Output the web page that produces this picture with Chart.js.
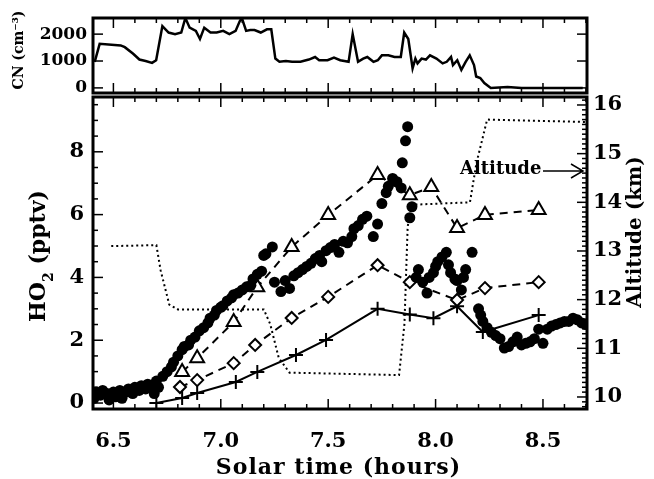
<!DOCTYPE html>
<html>
<head>
<meta charset="utf-8">
<script src="https://cdn.jsdelivr.net/npm/chart.js@4/dist/chart.umd.min.js"></script>
<style>
  body { margin: 0; background: #fff; }
  #wrap { position: relative; width: 654px; height: 479px; }
  canvas { position: absolute; left: 0; top: 0; }
</style>
</head>
<body>
<div id="wrap">
  <canvas id="cnChart" width="654" height="96"></canvas>
  <canvas id="mainChart" width="654" height="479"></canvas>
</div>
<script>
// tick labels
let xTicks = [6.5, 7.0, 7.5, 8.0, 8.5];
let ho2Ticks = [0, 2, 4, 6, 8];
let altTicks = [10, 11, 12, 13, 14, 15, 16];
let cnTicks = [0, 1000, 2000];

// measured HO2 (filled dots)
let dotTime = [6.41, 6.42, 6.44, 6.45, 6.47, 6.48, 6.50, 6.51, 6.53, 6.54, 6.56, 6.57, 6.59, 6.60, 6.62, 6.63, 6.65, 6.66, 6.68, 6.69, 6.70, 6.71, 6.73,
  6.75, 6.77, 6.78, 6.80, 6.82, 6.83, 6.85, 6.86, 6.88, 6.90, 6.92, 6.94, 6.95, 6.97, 6.98, 7.00, 7.01, 7.03, 7.05, 7.06, 7.08, 7.10, 7.12, 7.14, 7.15, 7.17, 7.19, 7.20, 7.21, 7.24,
  7.25, 7.28, 7.30, 7.32, 7.34, 7.36, 7.38, 7.40, 7.42, 7.44, 7.46, 7.47, 7.49, 7.51, 7.53, 7.55, 7.57, 7.59, 7.61, 7.62, 7.64, 7.66, 7.68, 7.71, 7.73, 7.75, 7.77, 7.78, 7.80, 7.82, 7.84, 7.845, 7.86, 7.87, 7.88, 7.89,
  7.91, 7.92, 7.94, 7.96, 7.97, 7.99, 8.00, 8.01, 8.03, 8.05, 8.06, 8.07, 8.09, 8.10, 8.12, 8.13, 8.14, 8.17,
  8.20, 8.21, 8.22, 8.24, 8.26, 8.28, 8.30, 8.32, 8.34, 8.36, 8.38, 8.40, 8.42, 8.44, 8.46, 8.48, 8.50, 8.52, 8.54, 8.56, 8.58, 8.60, 8.62, 8.64, 8.66, 8.68, 8.70];
let dotHO2 = [0.15, 0.35, 0.25, 0.4, 0.3, 0.1, 0.35, 0.2, 0.4, 0.15, 0.35, 0.45, 0.3, 0.5, 0.4, 0.55, 0.45, 0.6, 0.55, 0.3, 0.7, 0.5, 0.85,
  1.0, 1.15, 1.3, 1.5, 1.7, 1.8, 1.85, 2.0, 2.1, 2.3, 2.4, 2.55, 2.7, 2.8, 2.95, 3.05, 3.1, 3.25, 3.35, 3.45, 3.5, 3.6, 3.7, 3.75, 3.95, 4.1, 4.2, 4.7, 4.75, 4.97,
  3.85, 3.55, 3.9, 3.65, 4.05, 4.15, 4.25, 4.35, 4.45, 4.6, 4.7, 4.5, 4.85, 4.95, 5.05, 4.8, 5.15, 5.1, 5.3, 5.55, 5.65, 5.85, 5.95, 5.3, 5.7, 6.35, 6.7, 6.9, 7.15, 7.05, 6.85, 7.65, 8.35, 8.8, 5.9, 6.25,
  4.0, 4.25, 3.85, 3.5, 4.0, 4.15, 4.35, 4.5, 4.65, 4.8, 4.4, 4.15, 3.95, 3.9, 3.6, 4.0, 4.25, 4.8,
  3.0, 2.8, 2.6, 2.4, 2.25, 2.15, 2.05, 1.75, 1.8, 1.95, 2.1, 1.85, 1.9, 1.95, 2.05, 2.35, 1.9, 2.35, 2.45, 2.5, 2.55, 2.6, 2.6, 2.7, 2.65, 2.55, 2.5];

// model runs
let triTime = [6.82, 6.89, 7.06, 7.17, 7.33, 7.50, 7.73, 7.88, 7.98, 8.10, 8.23, 8.48];
let triHO2 = [0.99, 1.43, 2.58, 3.69, 4.97, 5.99, 7.26, 6.62, 6.88, 5.57, 5.99, 6.15];
let diaTime = [6.81, 6.89, 7.06, 7.16, 7.33, 7.50, 7.73, 7.88, 8.10, 8.23, 8.48];
let diaHO2 = [0.51, 0.73, 1.27, 1.85, 2.71, 3.38, 4.39, 3.85, 3.28, 3.66, 3.85];
let crossTime = [6.70, 6.82, 6.89, 7.07, 7.17, 7.35, 7.49, 7.73, 7.88, 7.99, 8.10, 8.22, 8.48];
let crossHO2 = [0.0, 0.16, 0.32, 0.67, 0.99, 1.53, 2.01, 3.0, 2.82, 2.7, 3.08, 2.26, 2.8];

// aircraft altitude (km)
let altTime = [6.49, 6.70, 6.72, 6.76, 6.80, 7.20, 7.23, 7.27, 7.32, 7.83, 7.855, 7.87, 7.89, 8.16, 8.19, 8.24, 8.70];
let altKm = [13.1, 13.12, 12.6, 11.9, 11.8, 11.8, 11.5, 10.8, 10.5, 10.45, 11.5, 13.5, 13.95, 14.0, 14.8, 15.7, 15.65];

// CN (cm-3)
let cnTime = [6.413, 6.436, 6.534, 6.553, 6.592, 6.621, 6.650, 6.680, 6.699, 6.728, 6.757, 6.787, 6.816, 6.835, 6.855, 6.884, 6.903, 6.923, 6.952, 6.981, 7.011, 7.040, 7.069, 7.088, 7.098, 7.118, 7.137, 7.157, 7.186, 7.215, 7.235,
  7.254, 7.273, 7.303, 7.332, 7.371, 7.410, 7.439, 7.458, 7.497, 7.527, 7.556, 7.595, 7.614, 7.639, 7.663, 7.682, 7.711, 7.731, 7.750, 7.780, 7.809, 7.838, 7.854, 7.873, 7.893, 7.906, 7.916, 7.935, 7.955, 7.974,
  8.004, 8.033, 8.052, 8.072, 8.081, 8.101, 8.120, 8.140, 8.159, 8.179, 8.189, 8.208, 8.227, 8.257, 8.335, 8.400, 8.685];
let cnVal = [970, 1640, 1580, 1515, 1270, 1055, 1000, 930, 1030, 2300, 2060, 2000, 2060, 2600, 2240, 2120, 1820, 2240, 2060, 2060, 2120, 2000, 2120, 2480, 2600, 2120, 2150, 2150, 2060, 2180, 2180,
  1090, 970, 1000, 970, 970, 1055, 1150, 1030, 1030, 1130, 1030, 970, 2000, 970, 1090, 1150, 970, 1030, 1210, 1210, 1150, 1150, 2060, 1820, 730, 1090, 910, 1090, 1055, 1210,
  1090, 910, 970, 1150, 850, 1030, 670, 970, 1210, 850, 425, 365, 180, 0, 36, 0, 0];

const serif = "'DejaVu Serif', 'Liberation Serif', serif";

function pts(xs, ys) {
  return xs.map((x, i) => ({ x: x, y: ys[i] }));
}

function fixTicks(values) {
  return function (scale) {
    scale.ticks = values.map(v => ({ value: v }));
  };
}

// keep the plot box where it is, labels may hang over the edges
function noPad(w) {
  return function (s) {
    s.width = w;
    s.paddingTop = 0;
    s.paddingBottom = 0;
  };
}

// frame + inward ticks, IDL style
const framePlugin = {
  id: 'frame',
  afterDraw(chart, args, opts) {
    const ctx = chart.ctx;
    const a = chart.chartArea;
    ctx.save();
    ctx.strokeStyle = '#000';
    ctx.lineWidth = 1.5;
    (opts.marks || []).forEach(m => {
      const s = chart.scales[m.scale];
      let n = Math.round((m.to - m.from) / m.step);
      for (let i = 0; i <= n; i++) {
        let v = m.from + i * m.step;
        let r = v / m.major;
        let len = Math.abs(r - Math.round(r)) < 1e-6 ? 10 : 5;
        let p = s.getPixelForValue(v);
        ctx.beginPath();
        if (m.edge === 'x') {
          ctx.moveTo(p, a.bottom); ctx.lineTo(p, a.bottom - len);
          ctx.moveTo(p, a.top); ctx.lineTo(p, a.top + len);
        } else if (m.edge === 'left') {
          ctx.moveTo(a.left, p); ctx.lineTo(a.left + len, p);
        } else {
          ctx.moveTo(a.right, p); ctx.lineTo(a.right - len, p);
        }
        ctx.stroke();
      }
    });
    ctx.lineWidth = 3;
    ctx.strokeRect(a.left, a.top, a.right - a.left, a.bottom - a.top);
    ctx.restore();
  }
};

const textPlugin = {
  id: 'labels',
  afterDraw(chart, args, opts) {
    const ctx = chart.ctx;
    ctx.save();
    ctx.fillStyle = '#000';
    ctx.strokeStyle = '#000';
    (opts.items || []).forEach(t => t(ctx, chart));
    ctx.restore();
  }
};

function rotated(ctx, x, y, fn) {
  ctx.save();
  ctx.translate(x, y);
  ctx.rotate(-Math.PI / 2);
  fn();
  ctx.restore();
}

// top panel: CN
new Chart(document.getElementById('cnChart'), {
  type: 'line',
  data: {
    datasets: [{
      data: pts(cnTime, cnVal),
      borderColor: '#000',
      borderWidth: 2.5,
      pointRadius: 0,
      tension: 0
    }]
  },
  options: {
    responsive: false,
    animation: false,
    layout: { padding: { top: 18, bottom: 3, right: 67, left: 0 } },
    plugins: {
      legend: { display: false },
      tooltip: { enabled: false },
      frame: {
        marks: [
          { scale: 'x', edge: 'x', from: 6.5, to: 8.7, step: 0.1, major: 0.5 },
          { scale: 'y', edge: 'left', from: 0, to: 2000, step: 1000, major: 1000 },
          { scale: 'y', edge: 'right', from: 0, to: 2000, step: 1000, major: 1000 }
        ]
      },
      labels: {
        items: [
          (ctx) => rotated(ctx, 19, 50, () => {
            ctx.font = "bold 14px " + serif;
            ctx.textAlign = 'center';
            ctx.textBaseline = 'middle';
            ctx.fillText('CN (cm\u207B\u00B3)', 0, 0);
          })
        ]
      }
    },
    scales: {
      x: { type: 'linear', display: false, min: 6.405, max: 8.705 },
      y: {
        min: -190, max: 2600,
        grid: { display: false, drawTicks: false },
        border: { display: false },
        afterBuildTicks: fixTicks(cnTicks),
        afterFit: noPad(93),
        ticks: {
          padding: 6, color: '#000',
          font: { family: serif, size: 17, weight: 'bold' },
          callback: (v) => String(v)
        }
      }
    }
  },
  plugins: [framePlugin, textPlugin]
});

// main panel: HO2 and altitude
new Chart(document.getElementById('mainChart'), {
  type: 'line',
  data: {
    datasets: [
      {
        label: 'Measured',
        data: pts(dotTime, dotHO2),
        showLine: false,
        pointStyle: 'circle',
        pointRadius: 5.5,
        pointBackgroundColor: '#000',
        pointBorderWidth: 0,
        order: 0
      },
      {
        label: 'Model A',
        data: pts(triTime, triHO2),
        borderColor: '#000',
        borderWidth: 2,
        borderDash: [8, 6],
        pointStyle: 'triangle',
        pointRadius: 8,
        pointBackgroundColor: '#fff',
        pointBorderColor: '#000',
        pointBorderWidth: 2,
        order: 1
      },
      {
        label: 'Model B',
        data: pts(diaTime, diaHO2),
        borderColor: '#000',
        borderWidth: 2,
        borderDash: [8, 6],
        pointStyle: 'rectRot',
        pointRadius: 6,
        pointBackgroundColor: '#fff',
        pointBorderColor: '#000',
        pointBorderWidth: 2,
        order: 2
      },
      {
        label: 'Model C',
        data: pts(crossTime, crossHO2),
        borderColor: '#000',
        borderWidth: 2,
        pointStyle: 'cross',
        pointRadius: 7,
        pointBorderColor: '#000',
        pointBorderWidth: 2,
        order: 3
      },
      {
        label: 'Altitude',
        data: pts(altTime, altKm),
        yAxisID: 'y2',
        borderColor: '#000',
        borderWidth: 2,
        borderDash: [2, 3],
        pointRadius: 0,
        order: 4
      }
    ]
  },
  options: {
    responsive: false,
    animation: false,
    layout: { padding: { top: 97, left: 0, right: 0, bottom: 0 } },
    plugins: {
      legend: { display: false },
      tooltip: { enabled: false },
      frame: {
        marks: [
          { scale: 'x', edge: 'x', from: 6.5, to: 8.7, step: 0.1, major: 0.5 },
          { scale: 'y', edge: 'left', from: 0, to: 9.5, step: 0.5, major: 2 },
          { scale: 'y2', edge: 'right', from: 9.8, to: 16.1, step: 0.1, major: 1 }
        ]
      },
      labels: {
        items: [
          (ctx) => {
            ctx.font = "bold 22px " + serif;
            ctx.letterSpacing = '1px';
            ctx.textAlign = 'left';
            ctx.textBaseline = 'middle';
            let w = ctx.measureText('Solar time (hours)').width - 1;
            ctx.fillText('Solar time (hours)', 338 - w / 2, 468);
            ctx.letterSpacing = '0px';
          },
          (ctx) => rotated(ctx, 39, 256, () => {
            ctx.font = "bold 22px " + serif;
            ctx.textBaseline = 'middle';
            let w1 = ctx.measureText('HO').width;
            ctx.font = "bold 14px " + serif;
            let w2 = ctx.measureText('2').width;
            ctx.font = "bold 22px " + serif;
            let w3 = ctx.measureText(' (pptv)').width;
            let x0 = -(w1 + w2 + w3) / 2;
            ctx.textAlign = 'left';
            ctx.fillText('HO', x0, 0);
            ctx.font = "bold 14px " + serif;
            ctx.fillText('2', x0 + w1, 10);
            ctx.font = "bold 22px " + serif;
            ctx.fillText(' (pptv)', x0 + w1 + w2, 0);
          }),
          (ctx) => rotated(ctx, 636, 232, () => {
            ctx.font = "bold 20px " + serif;
            ctx.textAlign = 'center';
            ctx.textBaseline = 'middle';
            ctx.fillText('Altitude (km)', 0, 0);
          }),
          (ctx) => {
            ctx.font = "bold 18px " + serif;
            ctx.textAlign = 'left';
            ctx.textBaseline = 'alphabetic';
            ctx.fillText('Altitude', 460, 174);
            ctx.lineWidth = 1.5;
            ctx.beginPath();
            ctx.moveTo(543, 171); ctx.lineTo(583, 171);
            ctx.moveTo(571, 164); ctx.lineTo(583, 171); ctx.lineTo(571, 178);
            ctx.stroke();
          }
        ]
      }
    },
    scales: {
      x: {
        type: 'linear', min: 6.405, max: 8.705,
        grid: { display: false, drawTicks: false },
        border: { display: false },
        afterBuildTicks: fixTicks(xTicks),
        afterFit: (s) => { s.height = 70; s.paddingLeft = 0; s.paddingRight = 0; },
        ticks: {
          padding: 20, color: '#000', maxRotation: 0,
          font: { family: serif, size: 21, weight: 'bold' },
          callback: (v) => v.toFixed(1)
        }
      },
      y: {
        position: 'left', min: -0.19, max: 9.745,
        grid: { display: false, drawTicks: false },
        border: { display: false },
        afterBuildTicks: fixTicks(ho2Ticks),
        afterFit: noPad(93),
        ticks: { padding: 9, color: '#000', font: { family: serif, size: 21, weight: 'bold' } }
      },
      y2: {
        position: 'right', min: 9.753, max: 16.164,
        grid: { display: false, drawTicks: false },
        border: { display: false },
        afterBuildTicks: fixTicks(altTicks),
        afterFit: noPad(67),
        ticks: { padding: 6, color: '#000', font: { family: serif, size: 21, weight: 'bold' } }
      }
    }
  },
  plugins: [framePlugin, textPlugin]
});
</script>
</body>
</html>
